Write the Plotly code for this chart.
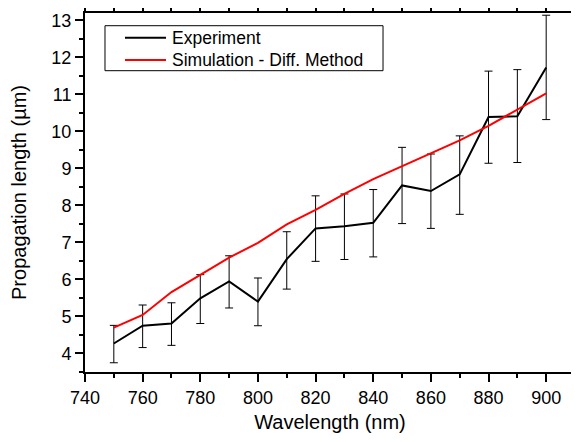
import plotly.graph_objects as go

wavelength = [750, 760, 770, 780, 790, 800, 810, 820, 830, 840, 850, 860, 870, 880, 890, 900]
experiment = [4.27, 4.75, 4.81, 5.49, 5.95, 5.40, 6.55, 7.38, 7.44, 7.53, 8.54, 8.39, 8.84, 10.39, 10.41, 11.73]
err_top = [4.76, 5.31, 5.37, 6.13, 6.64, 6.04, 7.29, 8.26, 8.31, 8.43, 9.57, 9.39, 9.88, 11.63, 11.67, 13.14]
err_bottom = [3.75, 4.16, 4.22, 4.81, 5.23, 4.75, 5.74, 6.49, 6.54, 6.61, 7.51, 7.38, 7.76, 9.14, 9.16, 10.32]
simulation = [4.70, 5.04, 5.66, 6.12, 6.59, 6.99, 7.49, 7.88, 8.31, 8.71, 9.06, 9.39, 9.76, 10.15, 10.58, 11.03]
series_names = ["Experiment", "Simulation - Diff. Method"]
series_colors = ["black", "#ff0000"]

err_plus = [t - v for t, v in zip(err_top, experiment)]
err_minus = [v - b for v, b in zip(experiment, err_bottom)]

FONT = "Liberation Sans, Arial, sans-serif"

fig = go.Figure()
fig.add_trace(go.Scatter(
    x=wavelength, y=experiment, mode="lines", name=series_names[0],
    line=dict(color=series_colors[0], width=2), showlegend=False,
    error_y=dict(type="data", symmetric=False, array=err_plus, arrayminus=err_minus,
                 color="black", thickness=1, width=4),
))
fig.add_trace(go.Scatter(
    x=wavelength, y=simulation, mode="lines", name=series_names[1],
    line=dict(color=series_colors[1], width=2), showlegend=False,
))

axis_common = dict(
    showline=True, linecolor="black", linewidth=2, mirror="ticks",
    ticks="outside", ticklen=8, tickwidth=1.5, tickcolor="black",
    showgrid=False, zeroline=False, automargin=False,
    tickfont=dict(family=FONT, size=18, color="black"),
)

fig.update_xaxes(
    range=[740, 910], tick0=740, dtick=20,
    minor=dict(dtick=10, ticks="outside", ticklen=4, tickcolor="black", tickwidth=1.5, showgrid=False),
    title=dict(text="Wavelength (nm)", font=dict(family=FONT, size=20, color="black"), standoff=8),
    **axis_common,
)
fig.update_yaxes(
    range=[3.5, 13.2], tick0=4, dtick=1,
    minor=dict(dtick=0.5, ticks="outside", ticklen=4, tickcolor="black", tickwidth=1.5, showgrid=False),
    title=dict(text="Propagation length (µm)", font=dict(family=FONT, size=20, color="black"), standoff=22),
    **axis_common,
)

# Legend drawn in paper coordinates (box, sample lines, labels)
box = dict(x0=0.0408, x1=0.6082, y0=0.8393, y1=0.9646)
row_y = [0.9312, 0.8691]
fig.add_shape(type="rect", xref="paper", yref="paper", **box,
              line=dict(color="black", width=1), fillcolor="white", layer="above")
for name, color, ry in zip(series_names, series_colors, row_y):
    fig.add_shape(type="line", xref="paper", yref="paper", x0=0.0816, x1=0.1653, y0=ry, y1=ry,
                  line=dict(color=color, width=2), layer="above")
    fig.add_annotation(xref="paper", yref="paper", x=0.1735, y=ry, xanchor="left", yanchor="middle",
                       text=name, showarrow=False,
                       font=dict(family=FONT, size=17.5, color="black"))

fig.update_layout(
    width=571, height=434,
    margin=dict(l=77, r=4, t=5, b=70),
    plot_bgcolor="white", paper_bgcolor="white",
    font=dict(family=FONT, color="black"),
    showlegend=False,
)

fig.write_html("out.html")
